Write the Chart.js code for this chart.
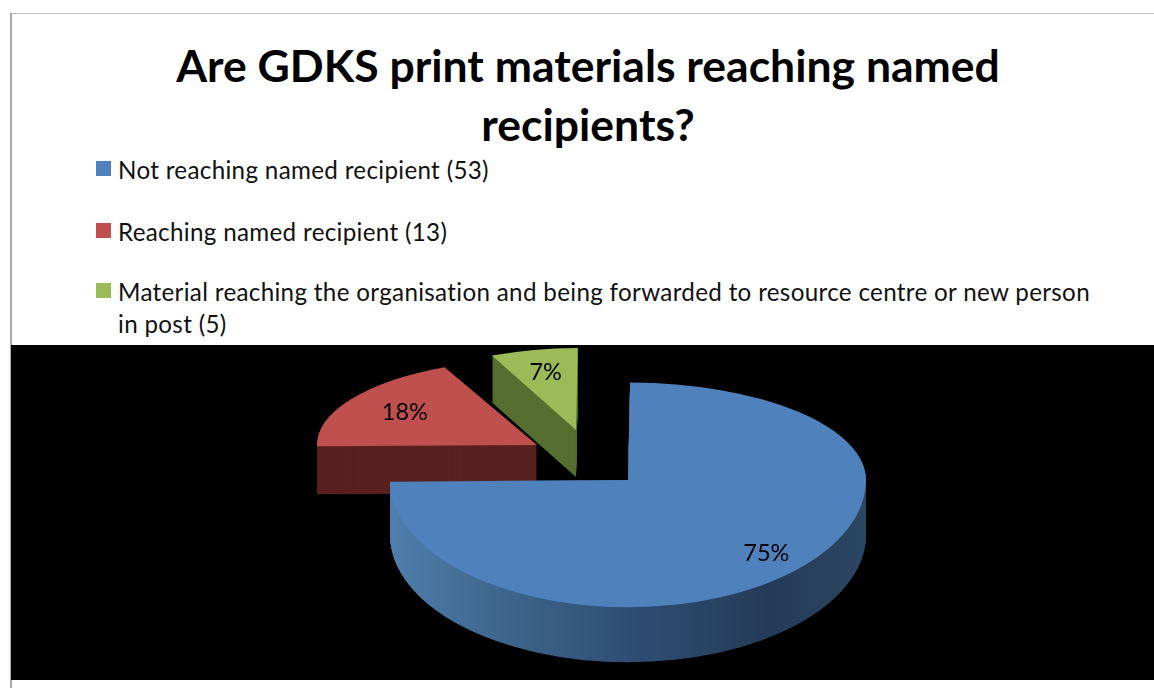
<!DOCTYPE html>
<html>
<head>
<meta charset="utf-8">
<title>GDKS print materials</title>
<script src="https://cdn.jsdelivr.net/npm/chart.js@4/dist/chart.umd.js"></script>
<style>
  html, body { margin: 0; padding: 0; background: #fff; overflow: hidden; }
  body { width: 1154px; height: 688px; position: relative; font-family: Lato, "Open Sans", sans-serif; color: #000; }
  #frameTop { position: absolute; left: 10px; top: 13px; right: 0; height: 1px; background: #bcbcbc; }
  #frameLeft { position: absolute; left: 10px; top: 13px; bottom: 0; width: 2px; background: #a8a8a8; }
  #title { position: absolute; left: 100px; width: 976px; top: 35px; text-align: center; font-weight: 700; font-size: 44.5px; line-height: 59px; }
  #legend div { position: absolute; left: 118px; width: 985px; font-size: 24.2px; line-height: 32px; letter-spacing: 0.32px; color: #111; }
  #legend i { position: absolute; left: -22px; top: 7px; width: 15px; height: 15px; }
  #chartPie { position: absolute; left: 11px; top: 345px; background: #000; }
</style>
</head>
<body>
<div id="frameTop"></div>
<div id="frameLeft"></div>
<div id="title"></div>
<div id="legend"></div>
<canvas id="chartPie" width="1143" height="335"></canvas>
<script>
const titleLines = ["Are GDKS print materials reaching named", "recipients?"];
const categories = [
  "Not reaching named recipient (53)",
  "Reaching named recipient (13)",
  "Material reaching the organisation and being forwarded to resource centre or new person in post (5)",
];
const counts = [53, 13, 5];
const percentLabels = ["75%", "18%", "7%"];

const topColors = ["#4f81bd", "#c0504d", "#9bbb59"];
const sideColors = [null, "#5a201f", "#566f30"];
const legendTops = [154, 216, 276];

// how the flat pie is laid over to look 3D, one entry per slice
const explode = [[0, 0], [-91, -35], [-52, -50]];
const sizes = [1, 0.924, 0.84];
const tiltBack = [0.41, 0.39, 0.41];
const tiltFront = [0.535, 0.39, 0.41];
const depths = [55, 48, 47];
const labelRadius = [0.82, 0.71, 0.72];

document.getElementById("title").innerHTML = titleLines.join("<br>");
categories.forEach((text, i) => {
  const row = document.createElement("div");
  row.style.top = legendTops[i] + "px";
  row.textContent = text;
  const box = document.createElement("i");
  box.style.background = topColors[i];
  row.appendChild(box);
  document.getElementById("legend").appendChild(row);
});

const placeSlice = (ctx, arc, i, tilt, dy) => {
  ctx.translate(arc.x + explode[i][0], arc.y + explode[i][1] + dy);
  ctx.scale(sizes[i], sizes[i] * tilt);
  ctx.translate(-arc.x, -arc.y);
};

const drawFace = (ctx, arc, i, dy) => {
  const splitY = arc.y + explode[i][1] + dy;
  if (tiltBack[i] === tiltFront[i]) {
    ctx.save();
    placeSlice(ctx, arc, i, tiltBack[i], dy);
    arc.draw(ctx);
    ctx.restore();
    return;
  }
  // back and front of the ellipse have different depth
  ctx.save();
  ctx.beginPath();
  ctx.rect(0, 0, 1143, splitY + 0.5);
  ctx.clip();
  placeSlice(ctx, arc, i, tiltBack[i], dy);
  arc.draw(ctx);
  ctx.restore();
  ctx.save();
  ctx.beginPath();
  ctx.rect(0, splitY, 1143, 335);
  ctx.clip();
  placeSlice(ctx, arc, i, tiltFront[i], dy);
  arc.draw(ctx);
  ctx.restore();
};

const pie3d = {
  id: "pie3d",
  beforeDatasetDraw(chart) {
    const ctx = chart.ctx;
    const arcs = chart.getDatasetMeta(0).data;
    const sideBlue = ctx.createLinearGradient(arcs[0].x - 238, 0, arcs[0].x + 238, 0);
    sideBlue.addColorStop(0, "#4f7fae");
    sideBlue.addColorStop(0.2, "#40698f");
    sideBlue.addColorStop(0.5, "#2f4e75");
    sideBlue.addColorStop(0.8, "#243b56");
    sideBlue.addColorStop(1, "#2c4763");
    // far slices first, the big one sits on top of them
    [2, 1, 0].forEach((i) => {
      const arc = arcs[i];
      const opts = arc.options;
      arc.options = { ...opts, backgroundColor: sideColors[i] || sideBlue };
      for (let dy = depths[i]; dy > 0; dy -= 1) {
        drawFace(ctx, arc, i, dy);
      }
      arc.options = opts;
      drawFace(ctx, arc, i, 0);
    });
    // percent labels
    ctx.fillStyle = "#000";
    ctx.font = "23.5px Lato";
    ctx.textAlign = "center";
    ctx.textBaseline = "middle";
    arcs.forEach((arc, i) => {
      const mid = (arc.startAngle + arc.endAngle) / 2;
      const d = arc.outerRadius * labelRadius[i];
      const tilt = Math.sin(mid) > 0 ? tiltFront[i] : tiltBack[i];
      const x = arc.x + explode[i][0] + sizes[i] * d * Math.cos(mid);
      const y = arc.y + explode[i][1] + sizes[i] * tilt * d * Math.sin(mid);
      ctx.fillText(percentLabels[i], x, y);
    });
    return false;
  },
};

new Chart(document.getElementById("chartPie").getContext("2d"), {
  type: "pie",
  data: {
    labels: categories,
    datasets: [
      {
        data: counts,
        backgroundColor: topColors,
        borderWidth: 0,
      },
    ],
  },
  options: {
    responsive: false,
    animation: false,
    rotation: 0.5,
    radius: 238,
    layout: { padding: { left: 91, bottom: 65 } },
    plugins: { legend: { display: false }, tooltip: { enabled: false } },
  },
  plugins: [pie3d],
});
</script>
</body>
</html>
